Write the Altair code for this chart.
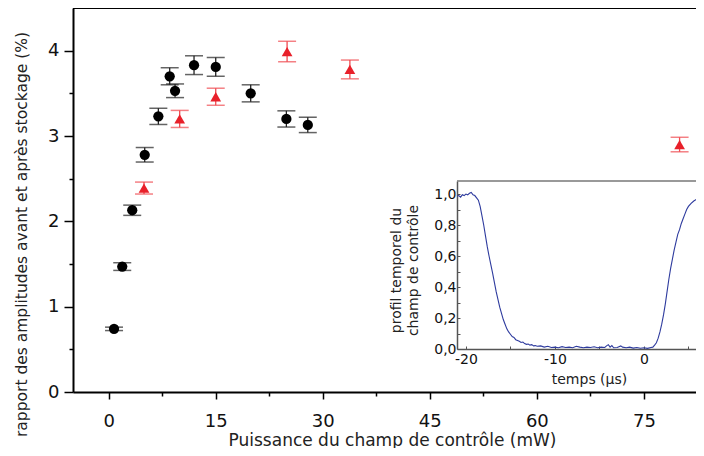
import altair as alt
import pandas as pd

# ---- main data ----
circ_x = [0.75, 1.9, 3.3, 5.05, 6.96, 8.55, 9.3, 11.96, 15.0, 19.9, 24.9, 27.9]
circ_y = [0.74, 1.47, 2.13, 2.78, 3.23, 3.70, 3.53, 3.83, 3.81, 3.50, 3.20, 3.13]
circ_err = [0.02, 0.045, 0.06, 0.085, 0.095, 0.10, 0.08, 0.11, 0.11, 0.10, 0.095, 0.09]

tri_x = [4.95, 9.95, 15.0, 25.0, 33.8, 80.0]
tri_y = [2.39, 3.20, 3.46, 3.99, 3.78, 2.90]
tri_err = [0.07, 0.10, 0.10, 0.12, 0.11, 0.085]

x_ticks = [0, 7.5, 15, 22.5, 30, 37.5, 45, 52.5, 60, 67.5, 75]
y_ticks = [0, 0.5, 1, 1.5, 2, 2.5, 3, 3.5, 4]

# ---- inset trace ----
trace_t = [-21.0, -20.8, -20.6, -20.4, -20.2, -20.0, -19.8, -19.6, -19.4, -19.2,
           -19.0, -18.8, -18.6, -18.4, -18.2, -18.0, -17.8, -17.6, -17.4, -17.2,
           -17.0, -16.8, -16.6, -16.4, -16.2, -16.0, -15.8, -15.6, -15.4, -15.2,
           -15.0, -14.8, -14.6, -14.4, -14.2, -14.0, -13.8, -13.6, -13.4, -13.2,
           -13.0, -12.8, -12.6, -12.4, -12.2, -12.0, -11.6, -11.2, -10.8, -10.4,
           -10.0, -9.6, -9.2, -8.8, -8.4, -8.0, -7.6, -7.2, -6.8, -6.4,
           -6.0, -5.6, -5.2, -4.8, -4.4, -4.2, -4.0, -3.8, -3.6, -3.4,
           -3.0, -2.6, -2.4, -2.0, -1.6, -1.2, -0.8, -0.4, 0.0, 0.4,
           0.8, 1.0, 1.2, 1.4, 1.6, 1.8, 2.0, 2.2, 2.4, 2.6,
           2.8, 3.0, 3.2, 3.4, 3.6, 3.8, 4.0, 4.2, 4.4, 4.6,
           4.8, 5.0, 5.3, 5.6, 5.9, 6.2, 6.6]
trace_v = [0.985, 0.99, 0.98, 0.995, 0.99, 1.0, 0.995, 1.005, 1.01, 0.995,
           0.99, 0.975, 0.96, 0.92, 0.86, 0.80, 0.73, 0.66, 0.60, 0.545,
           0.49, 0.43, 0.37, 0.32, 0.27, 0.23, 0.19, 0.16, 0.13, 0.11,
           0.095, 0.08, 0.075, 0.06, 0.055, 0.05, 0.042, 0.045, 0.035, 0.03,
           0.032, 0.025, 0.028, 0.02, 0.022, 0.018, 0.02, 0.012, 0.018, 0.01,
           0.012, 0.008, 0.015, 0.01, 0.012, 0.008, 0.018, 0.012, 0.008, 0.012,
           0.01, 0.014, 0.008, 0.012, 0.01, 0.02, 0.028, 0.012, 0.022, 0.008,
           0.01, 0.02, 0.012, 0.008, 0.012, 0.006, 0.01, 0.005, 0.008, 0.004,
           0.01, 0.012, 0.025, 0.04, 0.07, 0.11, 0.16, 0.22, 0.29, 0.37,
           0.45, 0.52, 0.58, 0.64, 0.69, 0.74, 0.77, 0.81, 0.84, 0.87,
           0.90, 0.92, 0.94, 0.955, 0.965, 0.97, 0.975]
inset_x_ticks = [-20, -15, -10, -5, 0, 5]
inset_y_ticks = [0.0, 0.1, 0.2, 0.3, 0.4, 0.5, 0.6, 0.7, 0.8, 0.9, 1.0]

W, H = 623, 384
FONT = "DejaVu Sans"
RED = "#e8202a"

circ = pd.DataFrame({"x": circ_x, "y": circ_y,
                     "lo": [a - b for a, b in zip(circ_y, circ_err)],
                     "hi": [a + b for a, b in zip(circ_y, circ_err)]})
tri = pd.DataFrame({"x": tri_x, "y": tri_y,
                    "lo": [a - b for a, b in zip(tri_y, tri_err)],
                    "hi": [a + b for a, b in zip(tri_y, tri_err)]})
trace = pd.DataFrame({"t": trace_t, "v": trace_v})

xs = alt.Scale(domain=[-5, 82.3], nice=False, zero=False)
ys = alt.Scale(domain=[0, 4.5], nice=False, zero=False)

x_axis = alt.Axis(
    values=x_ticks, title="Puissance du champ de contrôle (mW)",
    labelExpr="datum.value % 15 === 0 ? toString(datum.value) : ''",
    tickSize={"condition": {"test": "datum.value % 15 === 0", "value": 7}, "value": 4},
    tickWidth=1.5, tickColor="black", domainColor="black", domainWidth=2,
    labelFontSize=18, labelPadding=13, labelColor="#111",
    titleFontSize=17, titleFontWeight="normal", titleColor="#222",
    titleBaseline="alphabetic", titleX=319, titleY=53,
)
y_axis = alt.Axis(
    values=y_ticks, title="rapport des amplitudes avant et après stockage (%)",
    labelExpr="datum.value % 1 === 0 ? toString(datum.value) : ''",
    tickSize={"condition": {"test": "datum.value % 1 === 0", "value": 9}, "value": 4},
    tickWidth=1.5, tickColor="black", domainColor="black", domainWidth=2,
    labelFontSize=18, labelPadding=5, labelColor="#111",
    titleFontSize=15.5, titleFontWeight="normal", titleColor="#222",
    titleBaseline="alphabetic", titleX=-47, titleY=226,
)


def X(field):
    return alt.X(field, type="quantitative", scale=xs, axis=x_axis)


def Y(field):
    return alt.Y(field, type="quantitative", scale=ys, axis=y_axis)


def series(df, color, cap_color, shape, size):
    bars = alt.Chart(df).mark_rule(color=cap_color, strokeWidth=1.3).encode(
        x=X("x"), y=Y("lo"), y2="hi")
    lo = alt.Chart(df).mark_tick(color=cap_color, orient="horizontal", size=18, thickness=1.5).encode(
        x=X("x"), y=Y("lo"))
    hi = alt.Chart(df).mark_tick(color=cap_color, orient="horizontal", size=18, thickness=1.5).encode(
        x=X("x"), y=Y("hi"))
    pts = alt.Chart(df).mark_point(shape=shape, filled=True, size=size, color=color, opacity=1).encode(
        x=X("x"), y=Y("y"))
    return [bars, lo, hi, pts]


top_line = alt.Chart().mark_rule(color="black", strokeWidth=2).encode(
    x=alt.value(0), x2=alt.value(W), y=alt.value(0))

main = alt.layer(top_line, *series(circ, "black", "#222", "circle", 105),
                 *series(tri, RED, "#f04a50", "triangle-up", 115))

inset_top = alt.Chart().mark_rule(color="#777", strokeWidth=1.5).encode(
    x=alt.value(384), x2=alt.value(W), y=alt.value(173))

inset_line = alt.Chart(trace).mark_line(color="#2e3b9e", strokeWidth=1.1, clip=True).encode(
    x=alt.X("t:Q",
            scale=alt.Scale(domain=[-21, 5.85], range=[384, W], nice=False, zero=False),
            axis=alt.Axis(orient="bottom", offset=-(H - 341), values=inset_x_ticks,
                          labelExpr="datum.value % 10 === 0 ? toString(datum.value) : ''",
                          tickSize={"expr": "-3"}, tickColor="#555", tickWidth=1,
                          domainColor="#555", domainWidth=1.5,
                          labelFontSize=14, labelPadding=6, labelColor="#111",
                          title="temps (μs)", titleFontSize=14, titleFontWeight="normal",
                          titleColor="#222", titleBaseline="alphabetic",
                          titleX=516, titleY=34)),
    y=alt.Y("v:Q",
            scale=alt.Scale(domain=[0, 1.084], range=[341, 173], nice=False, zero=False),
            axis=alt.Axis(orient="left", offset=-384, values=inset_y_ticks,
                          labelExpr="round(datum.value*10) % 2 === 0 ? replace(format(datum.value, '.1f'), '.', ',') : ''",
                          tickSize={"expr": "-3"}, tickColor="#555", tickWidth=1,
                          domainColor="#555", domainWidth=1.5,
                          labelFontSize=14, labelPadding=4, labelColor="#111",
                          title=["profil temporel du", "champ de contrôle"],
                          titleFontSize=14, titleFontWeight="normal", titleColor="#222",
                          titleBaseline="alphabetic", titleLineHeight=17,
                          titleX=-57, titleY=262)),
)

inset = alt.layer(inset_top, inset_line)

chart = alt.layer(main, inset).resolve_scale(
    x="independent", y="independent"
).resolve_axis(
    x="independent", y="independent"
).properties(
    width=W, height=H,
    autosize=alt.AutoSizeParams(type="none"),
    padding={"left": 65, "top": 0, "right": 0, "bottom": 56},
).configure(font=FONT).configure_view(stroke=None).configure_axis(grid=False)

chart.save("out.html", embed_options={"renderer": "svg", "actions": False})
